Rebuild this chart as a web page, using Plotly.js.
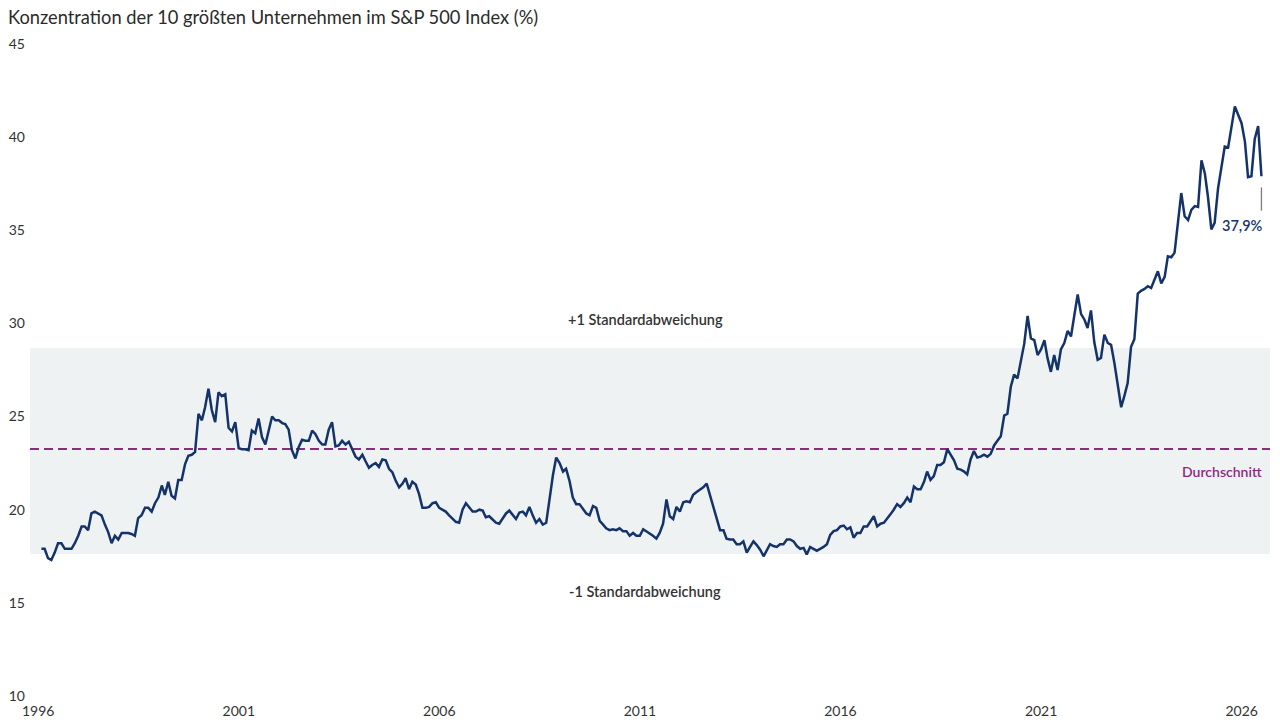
<!DOCTYPE html>
<html>
<head>
<meta charset="utf-8">
<script src="https://cdn.plot.ly/plotly-3.0.1.min.js"></script>
<style>html,body{margin:0;padding:0;background:#fff;}#chart{width:1280px;height:727px;}</style>
</head>
<body>
<div id="chart"></div>
<script>
// Monthly share (%) of the 10 largest companies in the S&P 500, month-end values from Jan 1996
const share1996_2000 = [
  17.9,17.9,17.4,17.3,17.7,18.2,18.2,17.9,17.9,17.9,18.2,18.6,
  19.1,19.1,18.9,19.8,19.9,19.8,19.7,19.2,18.8,18.2,18.6,18.4,
  18.75,18.75,18.75,18.7,18.6,19.55,19.7,20.1,20.1,19.9,20.35,20.65,
  21.3,20.8,21.5,20.75,20.6,21.6,21.6,22.45,22.9,22.95,23.1,25.15,
  24.8,25.5,26.5,25.35,24.7,26.3,26.1,26.2,24.4,24.2,24.7,23.3
];
const share2001_2005 = [
  23.25,23.25,23.2,24.25,24.1,24.9,23.9,23.5,24.25,25.0,24.8,24.8,
  24.65,24.6,24.3,23.2,22.75,23.35,23.75,23.7,23.7,24.25,24.05,23.7,
  23.5,23.5,24.3,24.7,23.4,23.45,23.7,23.5,23.65,23.2,22.85,22.7,
  22.95,22.6,22.25,22.4,22.5,22.3,22.7,22.65,22.2,22.0,21.55,21.2,
  21.4,21.7,21.1,21.5,21.35,20.85,20.1,20.1,20.15,20.35,20.4,20.1
];
const share2006_2010 = [
  20.0,19.9,19.7,19.5,19.35,19.3,20.0,20.35,20.1,19.9,19.9,20.0,
  19.95,19.6,19.65,19.5,19.3,19.25,19.55,19.8,19.95,19.75,19.5,19.85,
  19.9,19.7,20.15,19.7,19.3,19.5,19.2,19.3,20.6,21.85,22.8,22.5,
  22.05,22.2,21.55,20.65,20.3,20.3,20.05,19.8,19.7,20.2,20.1,19.4,
  19.2,19.0,18.9,18.95,18.9,19.0,18.85,18.85,18.6,18.75,18.6,18.6
];
const share2011_2015 = [
  18.95,18.85,18.7,18.6,18.45,18.75,19.25,20.55,19.65,19.5,20.15,19.9,
  20.4,20.45,20.4,20.8,20.95,21.05,21.2,21.4,20.8,20.25,19.6,18.9,
  18.9,18.45,18.4,18.4,18.15,18.15,18.3,17.7,18.0,18.3,18.1,17.85,
  17.5,17.85,18.15,18.05,18.0,18.15,18.15,18.4,18.4,18.3,18.05,17.9,
  17.95,17.6,18.0,17.9,17.8,17.9,18.0,18.15,18.65,18.85,18.9,19.1
];
const share2016_2020 = [
  19.15,18.95,19.05,18.5,18.75,18.75,19.1,19.1,19.4,19.65,19.1,19.25,
  19.3,19.5,19.75,20.0,20.3,20.15,20.35,20.65,20.4,21.25,21.1,21.1,
  21.5,22.05,21.6,21.8,22.4,22.4,22.55,23.25,22.95,22.65,22.2,22.15,
  22.05,21.9,22.7,23.15,22.8,22.85,22.95,22.85,23.0,23.45,23.7,23.95,
  25.05,25.15,26.6,27.25,27.05,27.95,28.9,30.4,29.2,29.1,28.3,28.6
];
const share2021_2026 = [
  29.1,28.15,27.4,28.3,27.5,28.6,28.95,29.6,29.3,30.45,31.55,30.5,
  30.2,29.75,30.7,29.0,28.05,28.15,29.4,28.95,28.85,27.85,26.7,25.5,
  26.15,26.8,28.75,29.15,31.6,31.75,31.85,32.0,31.9,32.4,32.8,32.15,
  32.5,33.6,33.55,33.8,35.4,37.0,35.75,35.55,36.1,36.3,36.25,38.75,
  38.05,36.8,35.05,35.4,37.25,38.4,39.5,39.45,40.55,41.65,41.2,40.75,
  39.75,37.85,37.9,39.9,40.6,37.9
];
const startYear = 1996;
const meanValue = [23.26];
const stdBand = [17.62, 28.68];
const yTicks = [10, 15, 20, 25, 30, 35, 40, 45];
const xTickYears = [1996, 2001, 2006, 2011, 2016, 2021, 2026];
const labels = {
  title: "Konzentration der 10 größten Unternehmen im S&P 500 Index (%)",
  upper: "+1 Standardabweichung",
  lower: "-1 Standardabweichung",
  mean: "Durchschnitt",
  last: "37,9%"
};

const values = [].concat(share1996_2000, share2001_2005, share2006_2010,
                         share2011_2015, share2016_2020, share2021_2026);
function monthEnd(k) {
  const d = new Date(Date.UTC(startYear, k + 1, 0));
  return d.toISOString().slice(0, 10);
}
const dates = values.map((_, k) => monthEnd(k));
const lastDate = dates[dates.length - 1];
const lastVal = values[values.length - 1];

const FONT = "Lato, 'Open Sans', sans-serif";
const NAVY = "#15336b";
const PURPLE = "#8c2a80";

const trace = {
  x: dates, y: values, type: "scatter", mode: "lines",
  line: {color: NAVY, width: 2.5}, hoverinfo: "x+y"
};

const layout = {
  width: 1280, height: 727,
  margin: {l: 30, r: 10, t: 44, b: 31},
  paper_bgcolor: "#fff", plot_bgcolor: "#fff",
  font: {family: FONT, color: "#333", size: 14},
  showlegend: false,
  title: {
    text: labels.title, xref: "container", yref: "container",
    x: 8 / 1280, xanchor: "left", y: 1 - 18 / 727, yanchor: "middle",
    font: {family: FONT, size: 18.3, color: "#2b2b2b", weight: 400}
  },
  xaxis: {
    type: "date",
    range: ["1995-10-19", "2026-09-16"],
    tickvals: xTickYears.map(y => y + "-01-01"),
    ticktext: xTickYears.map(String),
    showgrid: false, zeroline: false, showline: false, ticks: "",
    ticklabelstandoff: 5,
    tickfont: {family: FONT, size: 14, color: "#333"}
  },
  yaxis: {
    range: [10, 45], tickvals: yTicks, ticktext: yTicks.map(String),
    showgrid: false, zeroline: false, showline: false, ticks: "",
    ticklabelstandoff: 4,
    tickfont: {family: FONT, size: 14, color: "#333"}
  },
  shapes: [
    {type: "rect", xref: "paper", yref: "y", x0: 0, x1: 1,
     y0: stdBand[0], y1: stdBand[1], fillcolor: "#eef2f3",
     line: {width: 0}, layer: "below"},
    {type: "line", xref: "paper", yref: "y", x0: 0, x1: 1,
     y0: meanValue[0], y1: meanValue[0],
     line: {color: PURPLE, width: 2, dash: "9px,5px"}, layer: "below"},
    {type: "line", xref: "x", yref: "y", x0: lastDate, x1: lastDate,
     y0: lastVal - 0.6, y1: lastVal - 1.85,
     line: {color: "#7a7a7a", width: 1.3}}
  ],
  annotations: [
    {xref: "paper", yref: "y", x: 0.496, y: 30.2, text: labels.upper,
     showarrow: false, font: {family: FONT, size: 14.5, color: "#333", weight: 600}},
    {xref: "paper", yref: "y", x: 0.496, y: 15.6, text: labels.lower,
     showarrow: false, font: {family: FONT, size: 14.5, color: "#333", weight: 600}},
    {xref: "paper", yref: "y", x: 0.995, xanchor: "right", y: 22.05, text: labels.mean,
     showarrow: false, font: {family: FONT, size: 14, color: PURPLE, weight: 600}},
    {xref: "x", yref: "y", x: lastDate, xanchor: "right", xshift: 4, y: 35.28,
     text: labels.last, showarrow: false,
     font: {family: FONT, size: 14.5, color: NAVY, weight: 600}}
  ]
};

Plotly.newPlot("chart", [trace], layout, {displayModeBar: false, staticPlot: true});
</script>
</body>
</html>
